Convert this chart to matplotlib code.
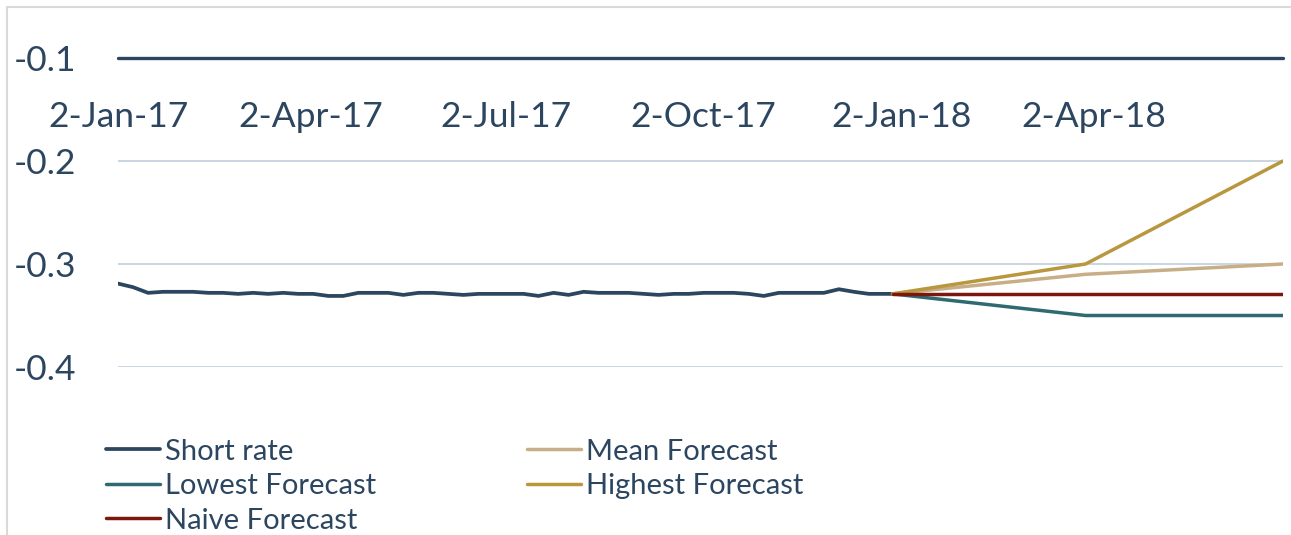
import numpy as np
import pandas as pd
import matplotlib
matplotlib.use("Agg")
from matplotlib import pyplot as plt
from matplotlib.patches import Rectangle

# weekly readings of the short rate, 2 Jan 2017 .. 29 Dec 2017
short_dates = list(pd.date_range("2017-01-02", periods=52, freq="7D")) + [pd.Timestamp("2017-12-29")]
short_rate = [-0.319, -0.3225, -0.328, -0.327, -0.327, -0.327, -0.328, -0.328, -0.329, -0.328,
              -0.329, -0.328, -0.329, -0.329, -0.331, -0.331, -0.328, -0.328, -0.328, -0.330,
              -0.328, -0.328, -0.329, -0.330, -0.329, -0.329, -0.329, -0.329, -0.331, -0.328,
              -0.330, -0.327, -0.328, -0.328, -0.328, -0.329, -0.330, -0.329, -0.329, -0.328,
              -0.328, -0.328, -0.329, -0.331, -0.328, -0.328, -0.328, -0.328, -0.3245, -0.327,
              -0.329, -0.329, -0.329]

fc_dates = pd.to_datetime(["2017-12-29", "2018-03-29", "2018-06-29"])
mean_fc = [-0.329, -0.310, -0.300]
lowest_fc = [-0.329, -0.350, -0.350]
highest_fc = [-0.329, -0.300, -0.200]
naive_fc = [-0.329, -0.329, -0.329]

tick_dates = pd.to_datetime(["2017-01-02", "2017-04-02", "2017-07-02", "2017-10-02", "2018-01-02", "2018-04-02"])
tick_labels = ["2-Jan-17", "2-Apr-17", "2-Jul-17", "2-Oct-17", "2-Jan-18", "2-Apr-18"]
y_ticks = [-0.1, -0.2, -0.3, -0.4]

navy = "#2C4660"
txt = "#2C4660"
plt.rcParams['font.family'] = ['Lato', 'DejaVu Sans']

fig = plt.figure(figsize=(12.91, 5.35), dpi=100)
ax = fig.add_axes([118/1291, 1-367/535, (1283-118)/1291, (367-58)/535])

lw = 2.5
h_short, = ax.plot(short_dates, short_rate, color=navy, lw=2.7, solid_capstyle="round",
                   solid_joinstyle="round", label="Short rate")
h_mean, = ax.plot(fc_dates, mean_fc, color="#C8AE86", lw=lw, solid_capstyle="round", label="Mean Forecast")
h_low, = ax.plot(fc_dates, lowest_fc, color="#2F6A70", lw=lw, solid_capstyle="round", label="Lowest Forecast")
h_high, = ax.plot(fc_dates, highest_fc, color="#B8973F", lw=lw, solid_capstyle="round", label="Highest Forecast")
h_naive, = ax.plot(fc_dates, naive_fc, color="#7C1710", lw=lw, solid_capstyle="round", label="Naive Forecast")

ax.set_ylim(-0.4, -0.1)
ax.set_xlim(pd.Timestamp("2017-01-02"), pd.Timestamp("2018-06-29"))
ax.set_yticks(y_ticks)
ax.set_yticklabels([f"{v:.1f}" for v in y_ticks])
ax.set_xticks(tick_dates)
ax.set_xticklabels(tick_labels)

ax.grid(axis="y", color="#C5D3E0", lw=1.3)
ax.set_axisbelow(True)
for s in ["left", "right", "bottom"]:
    ax.spines[s].set_visible(False)
ax.spines["top"].set_color(navy)
ax.spines["top"].set_linewidth(2.4)
ax.spines["top"].set_capstyle("round")

ax.tick_params(axis="y", length=0, pad=30, labelsize=25.5, labelcolor=txt)
ax.tick_params(axis="x", length=0, top=False, bottom=False, labeltop=True, labelbottom=False,
               pad=-54, labelsize=25.5, labelcolor=txt)

leg = fig.legend(handles=[h_short, h_low, h_naive, h_mean, h_high], ncol=2,
                 loc="upper left", bbox_to_anchor=(94/1291, 1-427/535), frameon=False,
                 fontsize=21, handlelength=1.85, handletextpad=0.17, columnspacing=5.2,
                 labelspacing=0.29, borderaxespad=0)
for t in leg.get_texts():
    t.set_color(txt)

fig.patches.append(Rectangle((7/1291, -0.1), 1.2, 1.1 - 7/535, transform=fig.transFigure,
                             fill=False, edgecolor="#D9D9D9", lw=1.5))

fig.savefig("out.png", dpi=100)
